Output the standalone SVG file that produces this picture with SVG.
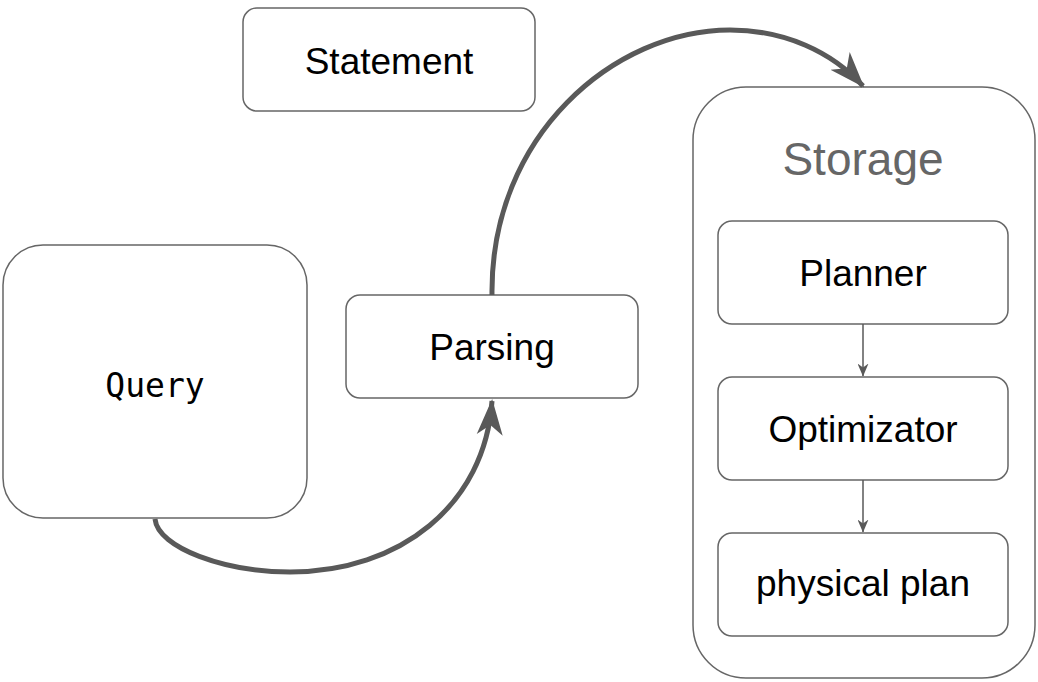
<svg xmlns="http://www.w3.org/2000/svg" width="1038" height="682" viewBox="0 0 1038 682">
  <style>
    .box { fill: #ffffff; stroke: #666666; stroke-width: 1.5; }
    .label { font-family: "Liberation Sans", Arial, sans-serif; font-size: 37px; fill: #000000; text-anchor: middle; }
    .mono { font-family: "DejaVu Sans Mono", "Liberation Mono", monospace; font-size: 33px; fill: #000000; text-anchor: middle; }
    .title { font-family: "Liberation Sans", Arial, sans-serif; font-size: 46px; fill: #666666; text-anchor: middle; }
    .flow { fill: none; stroke: #595959; stroke-width: 5; }
    .step { fill: none; stroke: #595959; stroke-width: 1.5; }
  </style>
  <defs>
    <marker id="bigArrow" markerUnits="userSpaceOnUse" markerWidth="36" markerHeight="30" viewBox="0 0 36 30" refX="34" refY="15" orient="auto">
      <path d="M0,2 L36,15 L0,28 L10,15 Z" fill="#595959"/>
    </marker>
    <marker id="smallArrow" markerUnits="userSpaceOnUse" markerWidth="13" markerHeight="11" viewBox="0 0 13 11" refX="12.5" refY="5.5" orient="auto">
      <path d="M0,0 L13,5.5 L0,11 L4,5.5 Z" fill="#595959"/>
    </marker>
  </defs>

  <!-- storage container -->
  <g id="storage">
    <rect class="box" x="693" y="87" width="342" height="591" rx="53" ry="53"/>
    <text class="title" x="863" y="175">Storage</text>
  </g>

  <g id="statement">
    <rect class="box" x="243" y="8" width="292" height="103" rx="14" ry="14"/>
    <text class="label" x="389" y="74">Statement</text>
  </g>

  <g id="query">
    <rect class="box" x="3" y="245" width="304" height="273" rx="40" ry="40"/>
    <text class="mono" x="155" y="397">Query</text>
  </g>

  <g id="parsing">
    <rect class="box" x="346" y="295" width="292" height="103" rx="14" ry="14"/>
    <text class="label" x="492" y="360">Parsing</text>
  </g>

  <g id="planner">
    <rect class="box" x="718" y="221" width="290" height="103" rx="14" ry="14"/>
    <text class="label" x="863" y="286">Planner</text>
  </g>

  <g id="optimizator">
    <rect class="box" x="718" y="377" width="290" height="103" rx="14" ry="14"/>
    <text class="label" x="863" y="442">Optimizator</text>
  </g>

  <g id="physical-plan">
    <rect class="box" x="718" y="533" width="290" height="103" rx="14" ry="14"/>
    <text class="label" x="863" y="596">physical plan</text>
  </g>

  <!-- connectors -->
  <g id="connectors">
    <path class="flow" d="M155,519 C158,548 225,572 290,572 C400,572 485,505 492,401" marker-end="url(#bigArrow)"/>
    <path class="flow" d="M492,295 C490,135 615,30 730,30 C785,30 832,52 863,86" marker-end="url(#bigArrow)"/>
    <path class="step" d="M863,324 L863,376" marker-end="url(#smallArrow)"/>
    <path class="step" d="M863,480 L863,532" marker-end="url(#smallArrow)"/>
  </g>
</svg>
